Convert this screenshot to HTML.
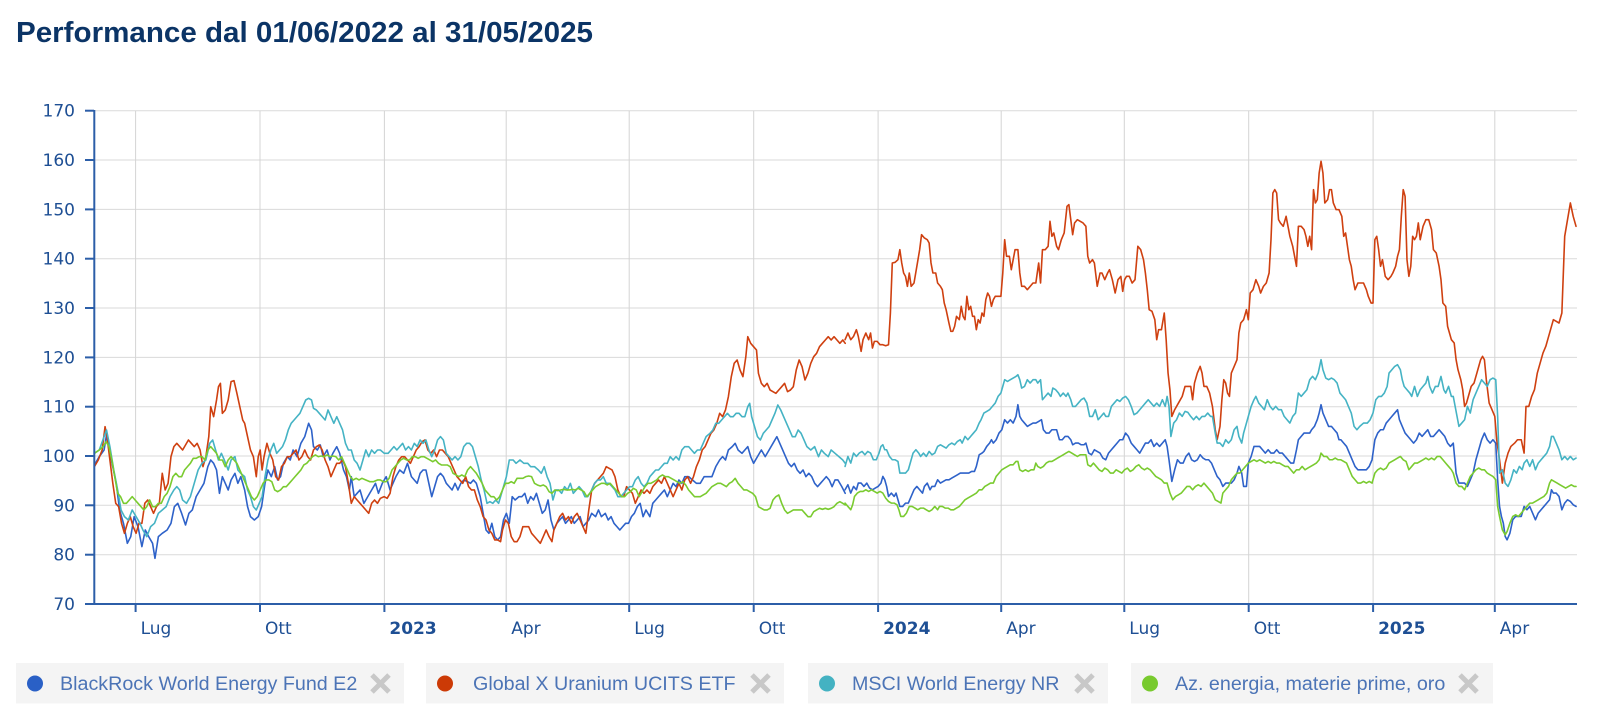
<!DOCTYPE html>
<html><head><meta charset="utf-8"><style>
html,body{margin:0;padding:0;background:#fff;}
svg{display:block;}
</style></head><body>
<svg width="1600" height="718" viewBox="0 0 1600 718" xmlns="http://www.w3.org/2000/svg">
<text x="16" y="42" font-family="Liberation Sans, Arial, sans-serif" font-weight="bold" font-size="29" fill="#0b3466" textLength="577" lengthAdjust="spacingAndGlyphs">Performance dal 01/06/2022 al 31/05/2025</text>

<g stroke="#dadada" stroke-width="1">
<line x1="94" y1="110.7" x2="1577" y2="110.7"/>
<line x1="94" y1="160" x2="1577" y2="160"/>
<line x1="94" y1="209.4" x2="1577" y2="209.4"/>
<line x1="94" y1="258.7" x2="1577" y2="258.7"/>
<line x1="94" y1="308" x2="1577" y2="308"/>
<line x1="94" y1="357.4" x2="1577" y2="357.4"/>
<line x1="94" y1="406.7" x2="1577" y2="406.7"/>
<line x1="94" y1="456" x2="1577" y2="456"/>
<line x1="94" y1="505.3" x2="1577" y2="505.3"/>
<line x1="94" y1="554.7" x2="1577" y2="554.7"/>
</g>
<g stroke="#d4d4d4" stroke-width="1">
<line x1="135.6" y1="110.7" x2="135.6" y2="604"/>
<line x1="260" y1="110.7" x2="260" y2="604"/>
<line x1="384.4" y1="110.7" x2="384.4" y2="604"/>
<line x1="506.2" y1="110.7" x2="506.2" y2="604"/>
<line x1="629.2" y1="110.7" x2="629.2" y2="604"/>
<line x1="753.7" y1="110.7" x2="753.7" y2="604"/>
<line x1="878.1" y1="110.7" x2="878.1" y2="604"/>
<line x1="1001.2" y1="110.7" x2="1001.2" y2="604"/>
<line x1="1124.3" y1="110.7" x2="1124.3" y2="604"/>
<line x1="1248.7" y1="110.7" x2="1248.7" y2="604"/>
<line x1="1373.1" y1="110.7" x2="1373.1" y2="604"/>
<line x1="1494.8" y1="110.7" x2="1494.8" y2="604"/>
</g>

<g font-family="DejaVu Sans, Verdana, sans-serif" font-size="17" fill="#1e4f94" text-anchor="end">
<text x="75" y="116.7">170</text>
<text x="75" y="166">160</text>
<text x="75" y="215.4">150</text>
<text x="75" y="264.7">140</text>
<text x="75" y="314">130</text>
<text x="75" y="363.4">120</text>
<text x="75" y="412.7">110</text>
<text x="75" y="462">100</text>
<text x="75" y="511.3">90</text>
<text x="75" y="560.7">80</text>
<text x="75" y="610">70</text>
</g>
<g font-family="DejaVu Sans, Verdana, sans-serif" font-size="17" fill="#1e4f94">
<text x="140.6" y="634">Lug</text>
<text x="265" y="634">Ott</text>
<text x="389.4" y="634" font-weight="bold">2023</text>
<text x="511.2" y="634">Apr</text>
<text x="634.2" y="634">Lug</text>
<text x="758.7" y="634">Ott</text>
<text x="883.1" y="634" font-weight="bold">2024</text>
<text x="1006.2" y="634">Apr</text>
<text x="1129.3" y="634">Lug</text>
<text x="1253.7" y="634">Ott</text>
<text x="1378.1" y="634" font-weight="bold">2025</text>
<text x="1499.8" y="634">Apr</text>
</g>

<g fill="none" stroke-width="1.6" stroke-linejoin="round" stroke-linecap="round">
<!-- segment 1 -->
<g transform="matrix(0.4847,0,0,0.3333,89.55,350)">
<polyline vector-effect="non-scaling-stroke" stroke="#2e62c9" points="10,345 20,320 30,300 35,255 45,330 55,400 62,480 70,520 78,580 85,560 92,500 100,530 108,590 115,540 122,560 130,580 135,625 142,560 150,550 160,540 168,520 175,470 182,460 190,490 198,525 205,490 212,480 220,440 228,420 236,400 244,350 250,330 256,340 262,360 268,430 274,380 280,400 286,420 292,390 300,370 306,400 312,380 320,420 326,470 332,500 340,510 348,500 355,470 362,400 368,360 375,380 382,350 388,390 394,380 400,340 408,320 414,330 420,300 428,320 436,280 444,260 452,220 458,240 462,290 470,300 476,285 482,320 490,300 496,330 502,310 510,290 516,310 524,360 530,380 536,420 540,380 546,440 552,430 558,420 566,460 574,440 582,420 590,400 596,430 604,400 612,380 620,420 626,400 632,380 640,360 648,370 656,340 664,380 670,390 676,400 682,370 688,360 694,360 700,400 706,440 712,410 718,380 724,370 730,380 736,400 742,410 748,420 754,400 760,420 766,400 772,390 780,395 786,400 792,390 798,400 806,440 812,490 818,540 824,550 830,520 836,560 842,570 848,560 854,510 860,490 866,520 872,440 878,450 886,440 892,440 898,430 904,460 910,440 916,450 922,430 928,460 934,490 940,480 946,450 952,510 958,540 964,520 970,510 976,500 982,520 988,510 994,500 1000,520 1006,510 1012,500 1018,530 1024,520 1030,510 1036,490 1044,500 1050,480 1056,500 1064,490 1070,510 1076,500 1082,520 1088,530 1094,540 1100,530 1106,520 1112,520 1118,500 1124,490 1130,470 1136,460 1142,500 1148,480 1156,500 1162,460 1168,450 1174,440 1180,430 1186,420 1192,440 1198,420 1204,400 1210,410 1216,390 1222,400 1228,380 1236,380 1244,390 1252,400 1260,400 1268,380 1276,380 1284,380 1292,350 1300,330 1306,320 1312,330 1318,300 1326,290 1332,280 1338,300 1346,310 1352,300 1358,290 1364,320 1370,340 1378,320 1386,300 1394,320 1402,300 1410,280 1418,260 1424,280 1430,300 1436,320 1442,340 1448,350 1454,340 1460,360 1466,370 1472,360 1478,380 1484,370 1490,380 1496,400 1502,410 1508,400 1514,390 1520,380 1526,390 1532,410 1538,390 1544,390 1552,410 1559,430"/>
<polyline vector-effect="non-scaling-stroke" stroke="#cf4010" points="10,350 18,330 26,300 32,230 36,260 42,330 48,400 54,460 60,470 66,520 72,550 78,520 84,500 90,530 96,550 102,520 108,520 114,460 120,450 126,470 132,490 138,470 144,460 150,370 156,420 162,400 168,320 174,290 180,280 186,290 192,300 198,285 204,270 210,280 216,290 222,280 228,300 234,350 240,320 246,260 250,170 256,200 262,150 266,110 270,100 274,190 280,180 286,150 292,95 298,92 304,130 310,170 316,210 320,220 326,260 332,300 338,320 344,380 348,320 352,300 356,360 360,320 366,280 372,310 378,330 384,380 390,390 396,350 402,340 408,320 414,320 420,310 426,300 432,330 438,320 444,300 450,320 456,330 462,300 468,290 474,285 480,300 486,330 492,350 498,380 504,360 510,340 516,340 522,330 528,350 534,400 540,460 546,440 552,450 558,460 564,470 570,480 576,490 582,460 588,450 594,460 600,445 608,440 614,445 620,430 626,380 632,350 638,330 644,320 650,320 656,330 662,340 668,320 674,300 680,290 686,275 692,270 698,300 704,310 710,300 716,320 722,300 728,300 734,310 740,320 746,340 752,360 758,380 764,390 770,400 776,380 782,410 788,420 794,420 800,450 806,470 812,500 818,510 824,540 830,550 836,570 842,570 848,575 852,540 858,510 864,520 870,560 876,575 882,575 888,560 894,530 900,530 906,530 912,550 918,560 924,570 930,580 936,560 942,540 948,560 954,575 958,540 964,520 970,500 976,490 982,510 988,500 994,520 1000,500 1006,490 1012,510 1018,530 1024,550 1030,480 1036,420 1042,400 1048,390 1054,380 1060,370 1066,350 1072,355 1078,360 1084,380 1090,420 1096,440 1102,440 1108,410 1114,420 1120,430 1126,460 1132,440 1138,420 1144,430 1150,420 1156,430 1162,410 1168,400 1174,390 1180,400 1186,380 1192,400 1198,420 1204,440 1210,420 1216,400 1222,420 1228,390 1234,380 1240,400 1246,380 1252,350 1258,330 1264,300 1270,290 1276,270 1282,250 1288,240 1294,220 1300,190 1306,200 1312,180 1318,140 1324,80 1330,40 1336,30 1342,60 1348,80 1354,20 1358,-40 1364,-20 1370,-10 1376,0 1380,70 1386,100 1392,110 1398,100 1404,120 1410,125 1416,130 1422,120 1428,110 1434,100 1440,125 1446,120 1452,110 1458,60 1464,30 1470,50 1476,90 1482,70 1488,40 1494,20 1500,10 1506,-10 1512,-20 1518,-30 1524,-40 1530,-30 1536,-40 1542,-30 1548,-20 1554,-30 1559,-20"/>
<polyline vector-effect="non-scaling-stroke" stroke="#45b3c4" points="10,310 20,300 30,260 35,240 42,290 50,360 58,420 65,480 72,500 80,510 88,480 96,500 104,520 110,540 118,560 126,530 134,520 142,490 150,480 158,470 166,440 174,420 180,410 186,420 192,450 200,460 208,440 216,400 224,360 232,340 240,330 248,280 254,270 260,300 266,330 272,310 278,330 286,360 292,330 300,320 306,360 312,370 320,380 326,420 332,440 338,470 344,480 350,460 356,440 362,380 368,330 374,300 380,280 386,310 392,300 398,290 404,270 410,240 416,220 422,210 428,200 434,190 440,170 446,150 452,145 458,150 462,175 468,180 474,190 480,200 486,210 492,180 498,200 504,220 510,200 516,220 522,240 528,280 534,300 540,300 546,330 552,340 558,360 564,330 570,300 576,320 582,300 588,310 594,300 600,300 608,310 616,310 622,300 628,290 634,300 640,290 646,280 652,300 658,290 664,300 670,280 676,290 682,270 688,280 694,270 700,300 706,320 712,300 718,270 724,260 730,270 736,310 742,320 748,330 754,320 760,330 766,320 772,290 778,280 784,280 790,290 796,320 802,350 808,390 814,420 820,460 826,455 832,460 838,450 844,460 852,420 860,380 866,330 874,330 880,340 888,330 896,340 904,340 910,350 918,350 926,360 932,370 938,350 944,380 950,400 956,450 962,420 968,420 974,430 980,410 986,420 992,400 998,430 1004,420 1010,410 1016,420 1022,440 1028,440 1036,420 1042,400 1048,390 1054,390 1060,380 1066,400 1072,400 1078,410 1084,420 1090,440 1096,440 1102,430 1108,420 1114,410 1120,410 1126,390 1132,380 1138,400 1144,410 1150,400 1156,380 1162,370 1168,360 1174,360 1180,350 1186,340 1192,340 1198,320 1204,330 1210,320 1216,330 1222,300 1228,290 1236,290 1242,300 1248,310 1254,300 1260,300 1266,280 1272,260 1280,250 1286,240 1292,220 1298,220 1304,210 1310,200 1316,190 1322,200 1328,200 1334,190 1340,190 1346,200 1352,200 1358,170 1362,160 1366,200 1372,230 1378,260 1384,270 1390,250 1396,240 1402,230 1408,210 1414,190 1420,165 1426,180 1432,200 1438,220 1444,240 1450,260 1456,260 1462,240 1468,250 1474,270 1480,290 1488,300 1496,290 1504,320 1510,300 1516,310 1524,320 1530,300 1538,310 1546,320 1554,330 1559,340"/>
<polyline vector-effect="non-scaling-stroke" stroke="#7acb30" points="10,310 20,300 28,290 34,275 40,290 46,330 52,380 58,430 64,440 70,460 76,460 82,450 88,440 94,450 100,460 106,470 112,480 118,470 124,450 130,470 136,470 142,460 148,460 154,440 160,430 166,410 172,380 178,370 184,380 190,380 196,360 202,350 208,340 214,325 220,325 226,320 232,320 238,330 244,300 250,290 256,300 262,310 268,330 274,330 280,350 286,330 292,320 298,330 304,340 310,360 316,380 322,400 328,420 334,440 340,450 346,440 352,420 358,400 364,390 370,390 376,395 382,420 388,425 394,420 400,410 406,410 412,400 418,390 424,380 430,370 436,360 442,345 448,340 454,330 460,320 466,315 472,320 478,318 484,320 490,315 496,320 502,318 508,320 514,330 520,320 526,340 532,360 538,380 544,390 550,385 556,390 562,385 570,390 578,395 586,395 594,390 600,390 606,395 612,395 618,385 624,360 630,350 636,340 642,330 648,325 654,330 660,330 666,320 672,320 678,325 684,320 690,320 696,325 702,330 708,335 714,330 720,340 726,345 732,345 738,345 744,350 750,370 756,375 762,380 768,375 774,380 780,360 786,350 792,360 798,370 804,385 810,400 816,420 822,430 828,440 834,440 840,450 846,440 852,420 858,400 864,400 870,395 876,400 882,385 888,385 894,385 900,380 906,378 912,380 918,400 924,405 930,408 936,405 942,410 948,425 954,430 960,420 966,422 972,420 978,418 984,420 990,420 996,418 1002,420 1008,415 1014,420 1020,425 1026,440 1032,430 1038,420 1044,410 1050,405 1056,400 1062,400 1068,405 1074,400 1080,410 1086,420 1092,430 1098,440 1104,440 1110,430 1116,425 1122,415 1128,420 1134,440 1140,425 1146,410 1152,400 1158,400 1164,395 1170,390 1176,380 1182,375 1188,380 1194,380 1200,385 1206,390 1212,395 1218,400 1224,395 1230,405 1236,420 1242,430 1248,440 1254,440 1260,440 1266,435 1272,430 1278,420 1284,410 1290,405 1296,400 1302,400 1308,405 1314,410 1320,400 1326,395 1332,385 1338,400 1344,410 1350,420 1356,420 1362,425 1368,430 1374,440 1380,470 1386,475 1392,480 1398,480 1404,475 1410,450 1416,440 1422,435 1428,460 1434,480 1440,490 1446,485 1452,480 1458,480 1464,480 1470,480 1476,490 1482,500 1488,500 1494,485 1500,480 1506,475 1512,478 1518,475 1524,478 1530,475 1536,470 1542,460 1548,455 1554,460 1559,465"/>
</g>
<!-- segment 2 -->
<g transform="matrix(0.4722,0,0,0.3335,839.4,139.6)">
<polyline vector-effect="non-scaling-stroke" stroke="#2e62c9" points="12,1050 18,1035 24,1060 30,1040 36,1050 40,1030 46,1030 52,1040 58,1030 64,1045 70,1050 76,1045 82,1040 88,1030 92,1010 96,1020 100,1040 104,1070 110,1060 116,1070 120,1060 124,1080 128,1100 134,1100 140,1090 146,1090 152,1070 158,1050 164,1040 170,1050 176,1060 180,1040 186,1030 192,1050 196,1040 202,1040 208,1020 214,1030 220,1025 226,1020 232,1020 238,1015 244,1010 250,1005 256,1000 262,1000 268,1000 274,1000 280,995 286,995 290,980 296,945 302,940 306,935 312,920 318,910 322,900 326,910 332,900 338,880 344,870 350,840 356,850 362,840 368,850 374,830 378,795 382,830 386,840 392,850 398,860 404,855 410,850 416,850 422,845 428,840 432,870 438,880 444,880 450,870 456,870 460,870 466,900 472,900 478,890 484,890 490,900 494,915 500,910 506,910 512,915 518,915 522,910 528,940 534,945 540,930 546,935 552,940 558,955 564,960 570,940 576,930 582,920 588,910 594,900 600,900 606,880 612,890 618,910 624,920 630,930 636,940 642,925 648,910 654,910 660,900 666,920 672,910 678,920 684,910 690,900 694,920 698,960 704,1025 710,990 716,960 722,970 728,970 734,950 740,940 746,960 752,965 758,960 764,945 770,955 776,960 782,960 788,970 794,990 800,1010 806,1020 812,1040 818,1030 824,1030 830,1030 836,1020 842,1000 846,980 852,1000 856,1040 862,1040 866,970 872,950 878,920 884,920 890,920 896,930 902,940 908,930 914,940 920,940 926,930 932,940 938,940 944,950 950,960 956,970 962,970 968,930 972,900 978,890 984,880 990,880 996,880 1000,870 1006,860 1012,840 1016,820 1020,795 1024,820 1030,840 1036,860 1042,860 1048,870 1054,880 1058,900 1062,900 1068,910 1074,920 1080,940 1086,960 1092,980 1098,990 1104,990 1110,990 1116,990 1122,980 1128,960 1134,900 1140,880 1146,870 1152,870 1158,850 1164,840 1170,830 1176,820 1182,810 1186,840 1192,860 1198,880 1204,890 1210,900 1216,910 1222,900 1228,880 1234,890 1240,880 1246,870 1252,890 1258,890 1264,880 1270,870 1276,880 1282,890 1288,910 1294,920 1300,910 1306,1000 1312,1030 1318,1030 1324,1030 1330,1040 1336,1020 1342,1000 1348,960 1354,930 1360,900 1366,880 1372,900 1378,910 1384,900 1390,910 1394,1020 1398,1100 1402,1130 1406,1150 1410,1190 1414,1200 1420,1180 1426,1140 1432,1130 1438,1130 1444,1130 1450,1100 1456,1110 1462,1100 1468,1120 1474,1140 1480,1120 1486,1110 1492,1100 1498,1090 1504,1080 1508,1050 1512,1060 1518,1060 1524,1070 1530,1110 1536,1090 1542,1080 1548,1085 1554,1095 1560,1100"/>
<polyline vector-effect="non-scaling-stroke" stroke="#cf4010" points="12,600 18,580 24,600 30,590 36,570 40,590 46,635 50,600 56,580 62,600 66,580 70,625 74,605 80,605 86,615 92,615 98,618 104,615 108,520 112,370 118,368 124,360 128,330 132,370 136,400 140,410 144,440 148,400 152,440 158,430 164,380 170,330 174,285 180,295 186,300 190,310 194,370 198,400 204,400 208,430 214,440 218,450 222,490 226,510 232,550 236,575 240,575 244,560 248,530 254,540 258,500 262,530 266,540 270,470 274,510 278,500 282,530 286,530 290,570 294,540 298,550 302,520 306,530 310,480 314,460 318,470 322,500 326,480 330,470 336,470 342,470 346,400 350,300 354,350 360,350 364,390 368,360 372,330 378,330 382,400 386,440 392,440 398,450 404,440 410,430 416,430 422,370 426,430 430,330 436,330 442,320 446,245 450,290 454,280 460,320 464,330 470,300 476,280 482,200 486,195 490,240 494,285 498,250 504,240 510,245 516,250 522,260 526,350 530,370 536,360 540,370 546,440 552,400 556,400 562,420 568,400 572,390 578,420 584,460 590,420 596,410 600,455 604,420 608,410 614,410 620,430 626,420 632,320 638,330 644,360 648,400 652,450 656,510 662,515 668,540 672,600 676,570 682,570 688,520 692,600 696,700 700,750 704,830 710,810 718,790 726,770 732,740 738,740 744,740 748,780 752,730 758,700 764,680 768,700 772,740 778,740 784,760 790,800 796,870 800,900 806,860 810,780 814,720 818,730 822,760 826,770 830,700 836,680 842,660 846,580 850,550 856,540 862,510 866,540 870,460 876,450 882,420 888,440 892,460 898,440 904,430 910,400 914,300 918,160 922,150 926,160 930,240 934,250 940,260 946,230 950,260 954,290 960,320 964,350 968,380 972,260 978,260 984,270 988,290 992,320 996,290 1000,330 1004,150 1008,190 1012,180 1016,100 1020,65 1024,100 1028,190 1034,180 1038,150 1042,150 1046,190 1052,210 1058,210 1064,230 1068,290 1072,280 1076,320 1080,360 1084,380 1088,420 1092,450 1098,430 1104,430 1110,430 1116,450 1120,470 1126,490 1130,490 1134,300 1138,290 1142,330 1146,380 1150,360 1156,410 1162,420 1168,410 1172,400 1178,380 1182,350 1186,330 1190,230 1194,150 1198,170 1202,360 1206,410 1210,380 1214,290 1218,300 1222,290 1226,250 1230,300 1236,260 1242,240 1248,240 1254,270 1258,330 1264,340 1270,380 1274,420 1278,490 1284,500 1288,560 1292,580 1296,600 1302,610 1306,660 1310,690 1316,720 1320,750 1324,800 1328,790 1332,770 1338,740 1344,730 1350,700 1354,680 1358,660 1362,650 1366,660 1370,720 1376,790 1382,810 1388,830 1392,900 1398,960 1404,1030 1410,970 1416,940 1422,920 1430,910 1436,900 1444,900 1450,940 1454,800 1460,800 1466,770 1472,750 1478,700 1484,670 1490,640 1496,620 1500,600 1506,570 1512,540 1518,545 1524,550 1530,520 1536,290 1542,240 1548,190 1554,230 1560,260"/>
<polyline vector-effect="non-scaling-stroke" stroke="#45b3c4" points="12,980 18,950 24,970 30,940 36,950 42,940 48,935 54,945 60,935 66,940 72,960 78,960 84,940 88,920 92,915 96,930 100,930 106,950 112,960 118,960 124,965 128,1000 134,1000 140,1000 146,990 150,970 156,940 162,930 168,940 172,950 178,940 184,950 190,935 196,945 202,940 208,920 214,915 220,920 226,925 232,915 238,910 244,915 250,905 256,900 260,910 266,890 272,900 278,890 284,880 290,870 296,850 300,840 306,820 312,815 318,810 324,800 330,790 336,770 342,760 346,740 350,720 356,725 362,720 368,715 374,710 378,705 382,720 386,745 392,740 398,720 404,730 410,720 416,720 420,730 426,720 430,780 436,770 442,760 448,770 452,745 458,750 464,760 468,770 474,760 480,770 484,760 490,780 494,800 500,800 506,790 512,780 518,775 524,790 530,830 536,830 542,810 548,840 554,830 560,820 564,830 570,830 576,800 582,790 588,780 594,785 600,775 606,770 612,780 618,800 624,825 630,820 636,810 642,800 648,790 654,780 660,790 666,800 672,790 678,800 684,780 690,800 694,770 698,800 702,890 708,850 714,840 720,820 726,830 732,815 738,818 744,830 750,840 756,830 762,840 768,830 774,830 780,820 786,830 790,830 796,880 800,910 806,910 812,920 818,900 824,910 830,900 836,870 842,860 846,890 852,910 856,880 860,860 866,830 872,800 878,780 882,770 888,790 894,800 900,810 906,780 912,800 918,810 924,800 930,810 936,810 942,830 948,840 954,850 960,830 966,820 972,760 978,770 984,760 990,750 996,720 1002,710 1008,720 1014,700 1020,660 1024,690 1030,715 1036,720 1042,715 1048,720 1054,730 1060,760 1066,770 1072,780 1078,800 1084,820 1090,860 1096,870 1102,860 1110,850 1118,850 1124,840 1130,820 1136,780 1142,770 1148,770 1154,760 1160,740 1164,700 1170,690 1176,680 1182,675 1188,690 1192,720 1196,740 1202,750 1208,760 1212,770 1218,740 1224,770 1230,750 1236,740 1242,730 1246,710 1250,740 1256,760 1262,740 1268,740 1274,710 1280,750 1284,760 1290,740 1296,770 1300,770 1304,800 1308,830 1312,860 1318,850 1324,840 1330,800 1336,820 1342,780 1348,760 1354,740 1360,720 1366,730 1372,740 1378,720 1384,715 1390,720 1394,830 1398,1000 1404,990 1410,1030 1416,1040 1422,1020 1428,990 1434,1000 1440,980 1446,990 1450,970 1456,960 1462,980 1468,960 1474,990 1480,970 1486,960 1492,950 1498,940 1504,920 1508,890 1512,890 1518,910 1524,930 1530,960 1536,950 1542,960 1548,950 1554,960 1560,955"/>
<polyline vector-effect="non-scaling-stroke" stroke="#7acb30" points="12,1090 18,1100 24,1110 28,1095 32,1070 38,1060 44,1055 50,1055 56,1050 62,1055 68,1050 74,1055 80,1060 86,1055 92,1060 98,1075 104,1085 110,1090 116,1090 122,1095 126,1110 130,1130 136,1130 142,1120 148,1100 154,1100 160,1105 166,1110 172,1105 178,1105 184,1110 190,1115 196,1110 202,1100 208,1110 212,1100 218,1100 224,1105 230,1105 236,1110 242,1110 248,1105 254,1100 260,1090 266,1080 272,1075 278,1070 284,1065 290,1060 296,1050 302,1050 308,1040 314,1035 320,1030 326,1030 332,1010 338,1000 344,990 350,985 356,980 362,975 368,975 374,965 378,965 382,990 388,995 394,990 400,995 406,990 412,990 416,970 420,980 426,985 432,980 438,970 444,965 450,965 456,960 462,955 468,950 474,945 480,940 486,935 492,940 498,945 504,950 510,945 516,945 522,945 526,975 532,980 538,970 544,980 550,990 556,995 562,985 568,990 574,1000 580,1000 586,990 592,995 598,1000 604,990 610,985 616,995 622,990 628,980 634,975 640,985 646,990 652,985 658,990 664,1000 670,1010 676,1015 682,1020 688,1030 694,1030 700,1060 706,1080 712,1070 718,1065 724,1060 730,1050 736,1040 742,1040 748,1050 754,1040 760,1035 766,1040 772,1030 778,1040 784,1050 790,1060 796,1080 802,1085 808,1090 812,1060 818,1050 824,1040 830,1020 836,1010 842,1000 848,1000 854,990 860,980 866,970 872,965 878,960 884,965 890,960 896,965 902,970 908,965 914,970 920,965 926,970 932,970 938,975 944,980 950,980 956,990 962,1000 968,990 974,990 980,980 986,990 992,985 998,980 1004,975 1010,970 1016,960 1020,940 1026,950 1032,950 1038,960 1044,960 1050,955 1056,960 1062,960 1068,965 1074,970 1080,990 1086,1010 1092,1020 1098,1030 1104,1030 1110,1025 1116,1030 1122,1025 1128,1030 1134,1000 1140,990 1146,985 1152,990 1158,985 1164,970 1170,965 1176,960 1182,955 1188,950 1194,960 1200,965 1206,990 1212,980 1218,970 1224,970 1230,965 1236,960 1242,955 1248,960 1254,955 1260,960 1266,950 1272,950 1278,960 1284,970 1290,980 1296,990 1300,1000 1306,1030 1312,1040 1318,1040 1324,1050 1330,1030 1336,1010 1342,1000 1348,990 1354,985 1360,990 1366,990 1372,1000 1378,1005 1384,1010 1390,1020 1394,1100 1398,1130 1404,1170 1410,1185 1414,1175 1420,1150 1426,1130 1432,1125 1438,1130 1444,1120 1450,1110 1456,1100 1462,1090 1468,1090 1474,1085 1480,1080 1486,1075 1492,1070 1498,1060 1504,1030 1508,1020 1514,1025 1520,1030 1526,1035 1532,1040 1538,1045 1544,1040 1550,1035 1556,1040 1560,1040"/>
</g>
</g>

<g stroke="#2c5ea8" stroke-width="2" fill="none">
<line x1="94.3" y1="110" x2="94.3" y2="605"/>
<line x1="85" y1="604" x2="1577" y2="604"/>
<line x1="85" y1="110.7" x2="94" y2="110.7"/>
<line x1="85" y1="160" x2="94" y2="160"/>
<line x1="85" y1="209.4" x2="94" y2="209.4"/>
<line x1="85" y1="258.7" x2="94" y2="258.7"/>
<line x1="85" y1="308" x2="94" y2="308"/>
<line x1="85" y1="357.4" x2="94" y2="357.4"/>
<line x1="85" y1="406.7" x2="94" y2="406.7"/>
<line x1="85" y1="456" x2="94" y2="456"/>
<line x1="85" y1="505.3" x2="94" y2="505.3"/>
<line x1="85" y1="554.7" x2="94" y2="554.7"/>
<line x1="135.6" y1="604" x2="135.6" y2="612"/>
<line x1="260" y1="604" x2="260" y2="612"/>
<line x1="384.4" y1="604" x2="384.4" y2="612"/>
<line x1="506.2" y1="604" x2="506.2" y2="612"/>
<line x1="629.2" y1="604" x2="629.2" y2="612"/>
<line x1="753.7" y1="604" x2="753.7" y2="612"/>
<line x1="878.1" y1="604" x2="878.1" y2="612"/>
<line x1="1001.2" y1="604" x2="1001.2" y2="612"/>
<line x1="1124.3" y1="604" x2="1124.3" y2="612"/>
<line x1="1248.7" y1="604" x2="1248.7" y2="612"/>
<line x1="1373.1" y1="604" x2="1373.1" y2="612"/>
<line x1="1494.8" y1="604" x2="1494.8" y2="612"/>
</g>

<!-- legend -->
<g>
<rect x="16" y="663" width="388" height="40.5" fill="#f4f4f4"/>
<rect x="426" y="663" width="358" height="40.5" fill="#f4f4f4"/>
<rect x="808" y="663" width="300" height="40.5" fill="#f4f4f4"/>
<rect x="1131" y="663" width="362" height="40.5" fill="#f4f4f4"/>
<circle cx="35" cy="683.5" r="8" fill="#2a60c6"/>
<circle cx="445" cy="683.5" r="8" fill="#cc3a06"/>
<circle cx="827" cy="683.5" r="8" fill="#44b2c2"/>
<circle cx="1150" cy="683.5" r="8" fill="#78ca2e"/>
<g font-family="Liberation Sans, Arial, sans-serif" font-size="19.7" fill="#4c74b6">
<text x="60" y="690">BlackRock World Energy Fund E2</text>
<text x="473" y="690">Global X Uranium UCITS ETF</text>
<text x="852" y="690">MSCI World Energy NR</text>
<text x="1175" y="690">Az. energia, materie prime, oro</text>
</g>
<g stroke="#c8c8c8" stroke-width="5" fill="none">
<path d="M372,675 L389,692 M389,675 L372,692"/>
<path d="M752,675 L769,692 M769,675 L752,692"/>
<path d="M1076,675 L1093,692 M1093,675 L1076,692"/>
<path d="M1460,675 L1477,692 M1477,675 L1460,692"/>
</g>
</g>
</svg>
</body></html>
